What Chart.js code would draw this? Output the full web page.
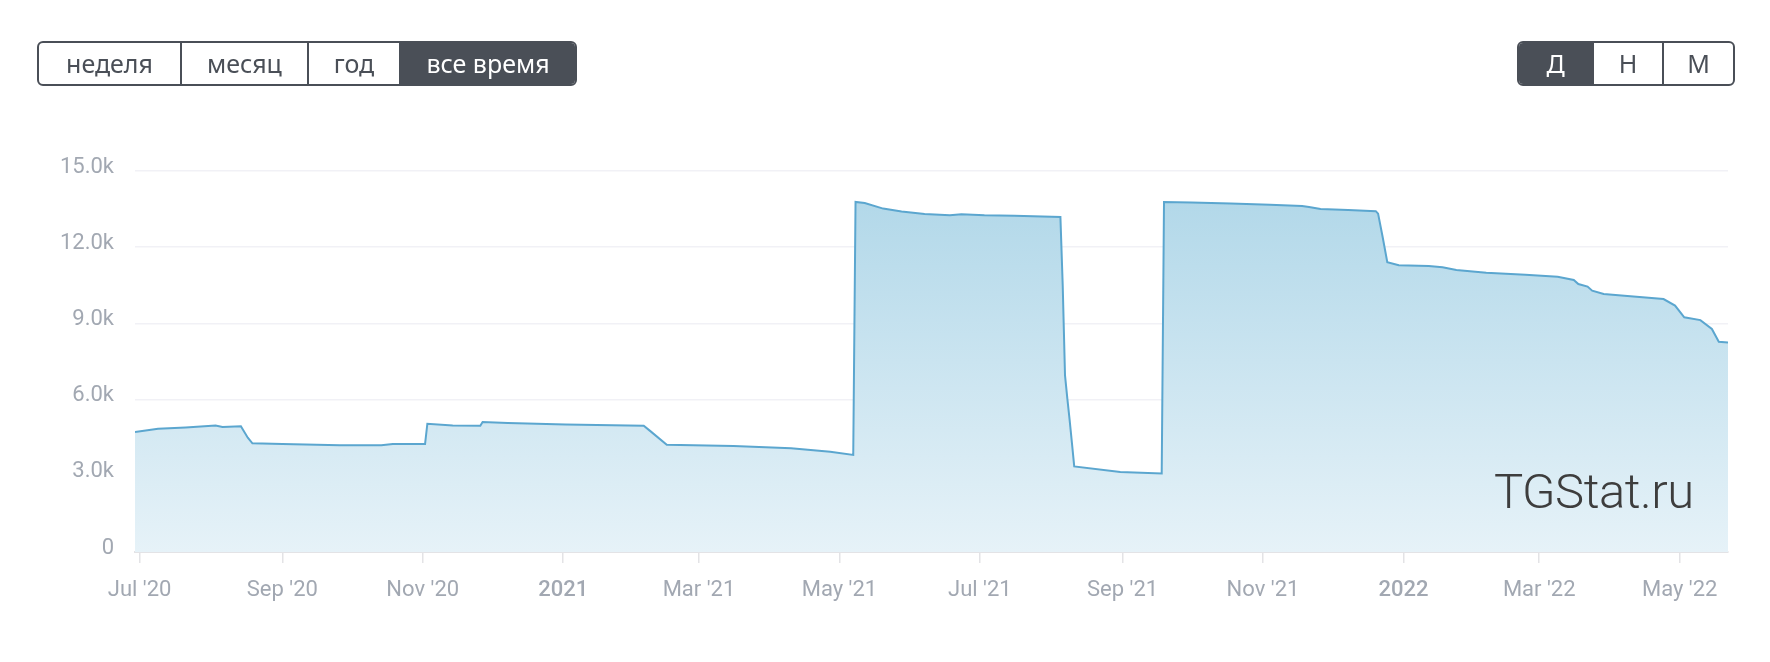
<!DOCTYPE html>
<html>
<head>
<meta charset="utf-8">
<script src="https://cdn.jsdelivr.net/npm/chart.js@4/dist/chart.umd.min.js"></script>
<style>
  html, body { margin: 0; padding: 0; background: #fff; }
  body { width: 1770px; height: 662px; position: relative; overflow: hidden; }
  #wrap { position: absolute; left: 0; top: 0; width: 1770px; height: 662px; }
  .btns { position: absolute; top: 41px; height: 45px; display: flex; box-sizing: border-box;
          border: 2px solid #4a4f57; border-radius: 6px; overflow: hidden;
          font-family: "Noto Sans", "Open Sans", sans-serif; font-size: 25px; color: #4a4f57; }
  .btns div { height: 100%; display: flex; align-items: center; justify-content: center; box-sizing: border-box; padding-bottom: 2px; }
  .btns div + div { border-left: 2px solid #4a4f57; }
  .btns .on { background: #4a4f57; color: #fff; }
  #left { left: 37px; width: 540px; }
  #right { left: 1517px; width: 218px; }
  #wm { position: absolute; left: 1494px; top: 462px; font-family: Roboto, "Liberation Sans", sans-serif;
        font-weight: 300; font-size: 49px; color: #3d3d3d; letter-spacing: -0.5px; line-height: 60px; }
</style>
</head>
<body>
<div id="wrap"><canvas id="c" width="1770" height="662"></canvas></div>
<div class="btns" id="left">
  <div style="width:141px">неделя</div>
  <div style="width:127px">месяц</div>
  <div style="width:92px">год</div>
  <div class="on" style="flex:1">все время</div>
</div>
<div class="btns" id="right">
  <div class="on" style="width:73px">Д</div>
  <div style="width:70px">Н</div>
  <div style="flex:1">М</div>
</div>
<div id="wm">TGStat.ru</div>
<script>
// ---- data ----
const dates = [
  "2020-06-29","2020-07-09","2020-07-21","2020-08-03","2020-08-06","2020-08-14","2020-08-17","2020-08-19",
  "2020-09-01","2020-09-26","2020-10-14","2020-10-19","2020-11-02","2020-11-03","2020-11-14","2020-11-26",
  "2020-11-27","2020-12-08","2021-01-02","2021-02-05","2021-02-08","2021-02-15","2021-03-16","2021-04-10",
  "2021-04-27","2021-05-07","2021-05-08","2021-05-12","2021-05-20","2021-05-28","2021-06-07","2021-06-18",
  "2021-06-23","2021-07-03","2021-07-16","2021-08-05","2021-08-06","2021-08-07","2021-08-08","2021-08-09",
  "2021-08-10","2021-08-11","2021-08-31","2021-09-18","2021-09-19","2021-10-01","2021-10-18",
  "2021-11-04","2021-11-18","2021-11-21","2021-11-26","2021-12-08","2021-12-20","2021-12-21","2021-12-23",
  "2021-12-25","2021-12-30","2022-01-12","2022-01-18","2022-01-24","2022-02-06","2022-02-23","2022-03-09",
  "2022-03-16","2022-03-18","2022-03-22","2022-03-24","2022-03-29","2022-04-07","2022-04-24","2022-04-29",
  "2022-05-03","2022-05-10","2022-05-15","2022-05-18","2022-05-22"
];
const subscribers = [
  4720,4850,4900,4980,4920,4950,4500,4280,
  4250,4200,4200,4250,4250,5050,4980,4970,
  5120,5080,5020,4970,4750,4220,4170,4080,
  3950,3820,13780,13740,13520,13410,13310,13260,
  13300,13260,13240,13190,10500,6950,6050,5200,
  4300,3370,3150,3090,13780,13760,13720,
  13670,13620,13580,13500,13460,13420,13320,12390,
  11410,11290,11260,11210,11100,10990,10920,10840,
  10710,10550,10450,10290,10160,10090,9960,9700,
  9240,9130,8780,8280,8250
];
const tickDates = ["2020-07-01","2020-09-01","2020-11-01","2021-01-01","2021-03-01","2021-05-01",
                   "2021-07-01","2021-09-01","2021-11-01","2022-01-01","2022-03-01","2022-05-01"];
const tickLabels = ["Jul '20","Sep '20","Nov '20","2021","Mar '21","May '21",
                    "Jul '21","Sep '21","Nov '21","2022","Mar '22","May '22"];
const yTicks = [0, 3000, 6000, 9000, 12000, 15000];

// ---- helpers ----
const DAY = 86400000;
const origin = Date.UTC(2020, 6, 1);
const toDay = s => { const [y,m,d] = s.split('-').map(Number); return Math.round((Date.UTC(y, m-1, d) - origin) / DAY); };
const points = dates.map((d, i) => ({ x: toDay(d), y: subscribers[i] }));
const tickDays = tickDates.map(toDay);
const labelFor = {}; tickDays.forEach((d, i) => labelFor[d] = tickLabels[i]);

const FONT = 'Roboto, "Liberation Sans", sans-serif';
const TXT = '#a2a8b2';

new Chart(document.getElementById('c'), {
  type: 'line',
  data: {
    datasets: [{
      data: points,
      borderColor: '#5ba6cf',
      borderWidth: 2,
      pointRadius: 0,
      tension: 0,
      fill: 'origin',
      backgroundColor: (ctx) => {
        const ca = ctx.chart.chartArea;
        if (!ca) return 'rgba(170,212,232,0.6)';
        const g = ctx.chart.ctx.createLinearGradient(0, ca.top, 0, ca.bottom);
        g.addColorStop(0, '#aed6e8');
        g.addColorStop(1, '#e6f2f8');
        return g;
      }
    }]
  },
  options: {
    responsive: false,
    animation: false,
    events: [],
    layout: { padding: { left: 0, right: 42, top: 171, bottom: 0 } },
    plugins: { legend: { display: false }, tooltip: { enabled: false } },
    scales: {
      x: {
        type: 'linear',
        min: toDay(dates[0]),
        max: toDay(dates[dates.length - 1]),
        afterBuildTicks: (s) => { s.ticks = tickDays.map(v => ({ value: v })); },
        afterFit: (s) => { s.height = 110; },
        grid: { display: true, drawOnChartArea: false, drawTicks: true, tickLength: 11, color: '#e3e3e6', lineWidth: 1.5 },
        border: { display: true, color: '#e3e3e6', width: 2 },
        ticks: {
          autoSkip: false, maxRotation: 0, minRotation: 0, padding: 14, color: TXT,
          font: (ctx) => ({ family: FONT, size: 22, weight: (ctx.tick && /^\d{4}$/.test(labelFor[ctx.tick.value] || '')) ? '500' : 'normal' }),
          callback: (v) => labelFor[v] || ''
        }
      },
      y: {
        min: 0, max: 15000,
        afterBuildTicks: (s) => { s.ticks = yTicks.map(v => ({ value: v })); },
        afterFit: (s) => { s.width = 135; },
        grid: { color: '#f1f1f6', lineWidth: 1.5, drawTicks: false },
        border: { display: false },
        ticks: {
          padding: 21, color: TXT, labelOffset: -4,
          font: { family: FONT, size: 22 },
          callback: (v) => v === 0 ? '0' : (v / 1000).toFixed(1) + 'k'
        }
      }
    }
  }
});
</script>
</body>
</html>
